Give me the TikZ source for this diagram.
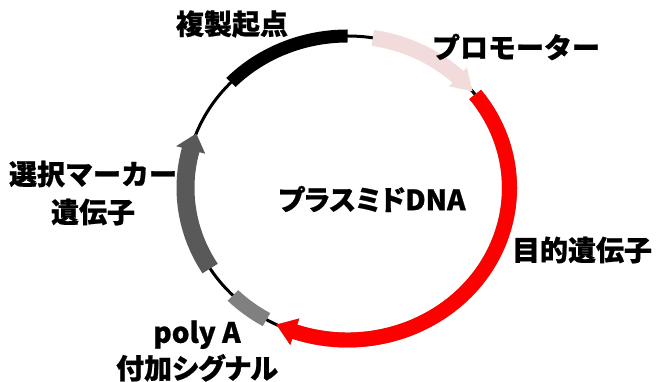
\documentclass[tikz,border=0pt]{standalone}
\usepackage{fontspec}
\setmainfont{Noto Sans CJK JP}[BoldFeatures={FakeBold=0.8}]
\newfontfamily\palted{Noto Sans CJK JP}[RawFeature=+palt,BoldFeatures={FakeBold=0.8}]
\usetikzlibrary{calc}
\definecolor{pinkband}{RGB}{242,220,219}
\definecolor{darkband}{RGB}{89,89,89}
\definecolor{midgray}{RGB}{128,128,128}
\definecolor{redband}{RGB}{255,0,0}
\newcommand\myband[4]{%
  \fill[#4] ($(C)+(#1:{\rx+#3} and {\ry+#3})$)
    arc[start angle=#1,end angle=#2,x radius={\rx+#3},y radius={\ry+#3}]
    -- ($(C)+(#2:{\rx-#3} and {\ry-#3})$)
    arc[start angle=#2,end angle=#1,x radius={\rx-#3},y radius={\ry-#3}] -- cycle;}
\newcommand\myarrow[6]{%
  \fill[#6] ($(C)+(#1:{\rx+#4} and {\ry+#4})$)
    arc[start angle=#1,end angle=#2,x radius={\rx+#4},y radius={\ry+#4}]
    -- ($(C)+(#2:{\rx+#5} and {\ry+#5})$)
    -- ($(C)+(#3:{\rx} and {\ry})$)
    -- ($(C)+(#2:{\rx-#5} and {\ry-#5})$)
    -- ($(C)+(#2:{\rx-#4} and {\ry-#4})$)
    arc[start angle=#2,end angle=#1,x radius={\rx-#4},y radius={\ry-#4}] -- cycle;}
\begin{document}
\begin{tikzpicture}[x=1pt,y=1pt,
  lbl/.style={font=\bfseries\fontsize{28}{38}\selectfont, inner sep=0pt, align=center},
  lbl2/.style={font=\palted\bfseries\fontsize{28}{36}\selectfont, inner sep=0pt, align=center}]
\useasboundingbox (0,0) rectangle (656,382);
\fill[white] (0,0) rectangle (656,382);
\coordinate (C) at (347.5,194);
\def\rx{162}\def\ry{152}
% backbone
\draw[line width=3pt] (C) ellipse[x radius=\rx,y radius=\ry];
% origin of replication
\myband{90}{136}{6.5}{black}
% promoter
\myarrow{81}{47}{39.5}{8}{13}{pinkband}
% gene of interest (with shadow)
\begin{scope}[shift={(1.5,-1.5)}]
\myarrow{38}{-109}{-116}{7.5}{14}{midgray}
\end{scope}
\myarrow{38}{-109}{-116}{7.5}{14}{redband}
% selection marker
\myarrow{212}{165.5}{159}{9}{15}{darkband}
% poly A
\myband{225}{240}{7.5}{midgray}
% labels
\node[lbl] (ori) at (232,358) {複製起点};
\node[lbl] (prom) at (516,335) {プロモーター};
\node[lbl] (goi) at (582,132) {目的遺伝子};
\node[lbl] (sel) at (93,189) {選択マーカー\\遺伝子};
\node[lbl2] (pa) at (197,31) {poly A\\付加シグナル};
\node[lbl2] (dna) at (372,183) {プラスミドDNA};
\end{tikzpicture}
\end{document}
